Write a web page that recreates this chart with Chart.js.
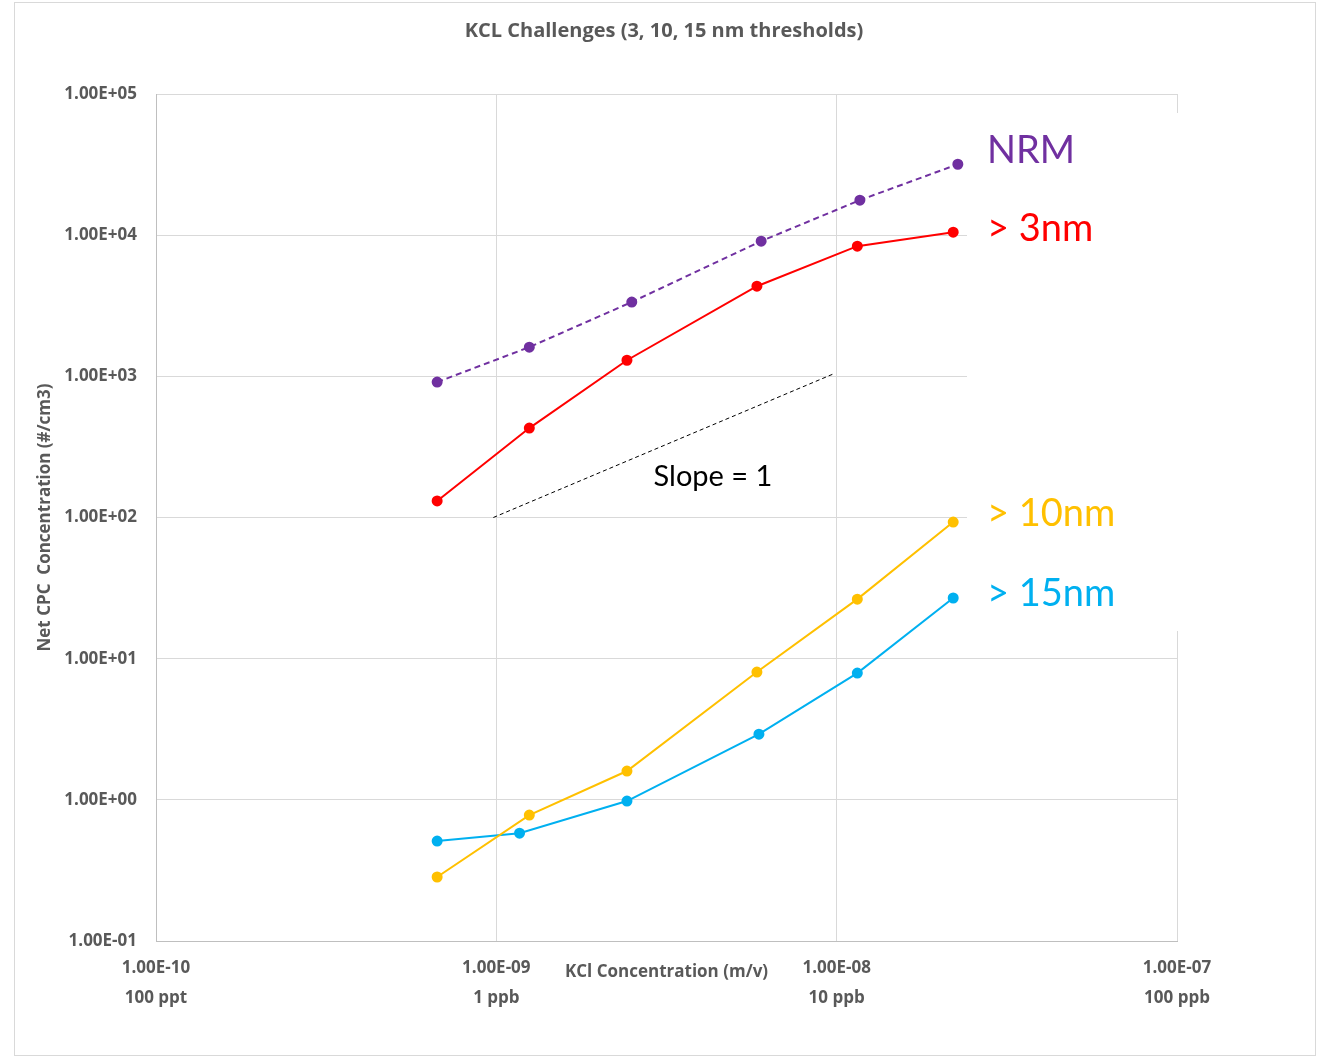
<!DOCTYPE html>
<html>
<head>
<meta charset="utf-8">
<script src="https://cdn.jsdelivr.net/npm/chart.js@4.4.1/dist/chart.umd.min.js"></script>
<style>
  html, body { margin: 0; padding: 0; background: #fff; }
  #wrap { width: 1322px; height: 1058px; }
</style>
</head>
<body>
<div id="wrap"><canvas id="chart"></canvas></div>
<script>
// KCl concentration (m/v) for each challenge point
const nrmX = [6.7e-10, 1.25e-9, 2.5e-9, 6.0e-9, 1.17e-8, 2.27e-8];
const nrmY = [910, 1610, 3360, 9070, 17700, 31800];

const nm3X = [6.7e-10, 1.25e-9, 2.42e-9, 5.83e-9, 1.15e-8, 2.2e-8];
const nm3Y = [131, 430, 1300, 4350, 8360, 10500];

const nm10X = [6.7e-10, 1.25e-9, 2.42e-9, 5.83e-9, 1.15e-8, 2.2e-8];
const nm10Y = [0.284, 0.78, 1.6, 8.04, 26.4, 92.8];

const nm15X = [6.7e-10, 1.17e-9, 2.42e-9, 5.91e-9, 1.15e-8, 2.2e-8];
const nm15Y = [0.51, 0.58, 0.98, 2.92, 7.9, 26.9];

// reference line with slope 1 on log-log
const slopeX = [9.8e-10, 9.75e-9];
const slopeY = [100, 1037];

const xTicks = [1e-10, 1e-9, 1e-8, 1e-7];
const xTickLabels = [['1.00E-10', '100 ppt'], ['1.00E-09', '1 ppb'], ['1.00E-08', '10 ppb'], ['1.00E-07', '100 ppb']];
const yTicks = [0.1, 1, 10, 100, 1000, 10000, 100000];

const GREY = '#595959';
const FONT = '"Open Sans", Lato, sans-serif';
const LABEL_FONT = 'Lato, "Open Sans", sans-serif';

function pts(xs, ys) {
    return xs.map((x, i) => ({ x: x, y: ys[i] }));
}

function sci(v) {
    const e = Math.round(Math.log10(v));
    const sign = e < 0 ? '-' : '+';
    const a = Math.abs(e);
    return '1.00E' + sign + (a < 10 ? '0' + a : a);
}

const series = [
    { label: 'NRM', data: pts(nrmX, nrmY), color: '#7030a0', dash: [6, 4] },
    { label: '> 3nm', data: pts(nm3X, nm3Y), color: '#ff0000', dash: [] },
    { label: '> 10nm', data: pts(nm10X, nm10Y), color: '#ffc000', dash: [] },
    { label: '> 15nm', data: pts(nm15X, nm15Y), color: '#00b0f0', dash: [] }
];

const datasets = series.map(s => ({
    label: s.label,
    data: s.data,
    borderColor: s.color,
    backgroundColor: s.color,
    borderWidth: 2,
    borderDash: s.dash,
    pointRadius: 4.5,
    pointHoverRadius: 4.5,
    showLine: true,
    tension: 0
}));

datasets.push({
    label: 'Slope = 1',
    data: pts(slopeX, slopeY),
    borderColor: '#000000',
    backgroundColor: '#000000',
    borderWidth: 1,
    borderDash: [4, 3],
    pointRadius: 0,
    showLine: true
});

// white box where the series labels sit, covering part of the grid
const decorations = {
    id: 'decorations',
    beforeDraw(chart) {
        const ctx = chart.ctx;
        ctx.save();
        ctx.fillStyle = '#fff';
        ctx.fillRect(0, 0, chart.width, chart.height);
        ctx.strokeStyle = '#d9d9d9';
        ctx.lineWidth = 1;
        ctx.strokeRect(14.5, 2.5, 1301, 1053);
        ctx.restore();
    },
    beforeDatasetsDraw(chart) {
        const ctx = chart.ctx;
        ctx.save();
        ctx.fillStyle = '#fff';
        ctx.fillRect(967, 113, 225, 518);
        ctx.restore();
    },
    afterDraw(chart) {
        const ctx = chart.ctx;
        const area = chart.chartArea;
        ctx.save();
        ctx.fillStyle = GREY;
        ctx.textAlign = 'center';
        ctx.textBaseline = 'middle';
        ctx.font = 'bold 20px ' + FONT;
        ctx.fillText('KCL Challenges (3, 10, 15 nm thresholds)', 664, 31);

        ctx.font = 'bold 17px ' + FONT;
        ctx.fillText('KCl Concentration (m/v)', (area.left + area.right) / 2, 972);

        ctx.save();
        ctx.translate(45, (area.top + area.bottom) / 2);
        ctx.rotate(-Math.PI / 2);
        ctx.fillText('Net CPC  Concentration (#/cm3)', 0, 0);
        ctx.restore();

        ctx.textAlign = 'left';
        ctx.font = '38px ' + LABEL_FONT;
        const labelY = [151, 229, 514, 594];
        series.forEach((s, i) => {
            ctx.fillStyle = s.color;
            ctx.fillText(s.label, 987, labelY[i]);
        });

        ctx.fillStyle = '#000';
        ctx.textAlign = 'center';
        ctx.font = '29px ' + LABEL_FONT;
        ctx.fillText('Slope = 1', 713, 477);
        ctx.restore();
    }
};

new Chart(document.getElementById('chart'), {
    type: 'scatter',
    data: { datasets: datasets },
    options: {
        responsive: true,
        maintainAspectRatio: false,
        animation: false,
        layout: { padding: { left: 14, right: 145, top: 94, bottom: 0 } },
        plugins: {
            legend: { display: false },
            tooltip: { enabled: false }
        },
        scales: {
            x: {
                type: 'logarithmic',
                min: 1e-10,
                max: 1e-7,
                afterBuildTicks: scale => { scale.ticks = xTicks.map(v => ({ value: v })); },
                afterFit: scale => { scale.height = 117; },
                grid: { color: '#d9d9d9', lineWidth: 1, drawTicks: false },
                border: { color: '#bfbfbf', width: 1 },
                ticks: {
                    autoSkip: false,
                    maxRotation: 0,
                    padding: 13,
                    color: GREY,
                    font: { family: FONT, size: 17, weight: 'bold', lineHeight: 1.72 },
                    callback: (v, i) => xTickLabels[i]
                }
            },
            y: {
                type: 'logarithmic',
                min: 0.1,
                max: 100000,
                afterBuildTicks: scale => { scale.ticks = yTicks.map(v => ({ value: v })); },
                afterFit: scale => { scale.width = 142; },
                grid: { color: '#d9d9d9', lineWidth: 1, drawTicks: false },
                border: { color: '#bfbfbf', width: 1 },
                ticks: {
                    autoSkip: false,
                    padding: 19,
                    color: GREY,
                    font: { family: FONT, size: 17, weight: 'bold' },
                    callback: v => sci(v)
                }
            }
        }
    },
    plugins: [decorations]
});
</script>
</body>
</html>
